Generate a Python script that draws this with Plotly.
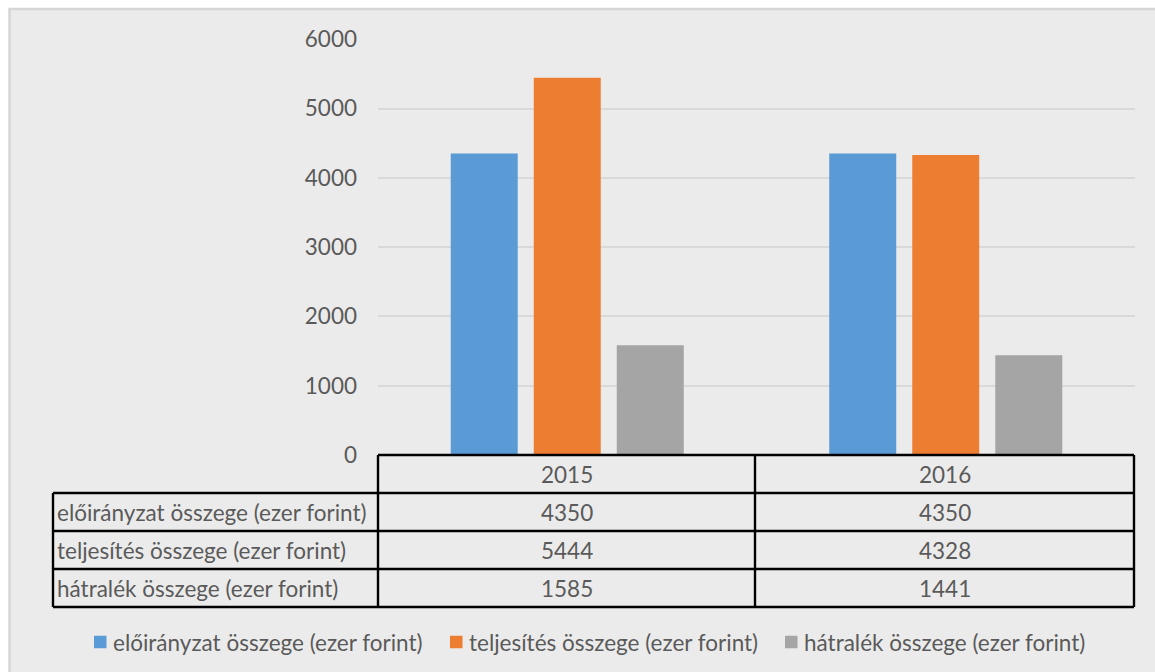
import plotly.graph_objects as go

years = ["2015", "2016"]
series_names = [
    "előirányzat összege (ezer forint)",
    "teljesítés összege (ezer forint)",
    "hátralék összege (ezer forint)",
]
eloiranyzat = [4350, 4350]
teljesites = [5444, 4328]
hatralek = [1585, 1441]
series_values = [eloiranyzat, teljesites, hatralek]
colors = ["#5B9BD5", "#ED7D31", "#A5A5A5"]
y_ticks = [0, 1000, 2000, 3000, 4000, 5000, 6000]

W, H = 1155, 672
FONT = "Lato"
FS = 22.5
TXT = "#5A5A5A"

def px(x):
    return x / W

def py(y):
    return 1 - y / H

fig = go.Figure()
for name, vals, col in zip(series_names, series_values, colors):
    fig.add_trace(go.Bar(x=years, y=vals, name=name, marker_color=col,
                         marker_line_width=0, showlegend=False))

shapes = []
# outer chart area
shapes.append(dict(type="rect", xref="paper", yref="paper",
                   x0=px(9.5), x1=px(1170), y0=py(9), y1=py(690),
                   fillcolor="#EBEBEB", line=dict(color="#D6D6D6", width=2.5),
                   layer="below"))

# data table
xl, xd, xm, xr = 53, 378, 755, 1134
rows = [455, 493, 531, 569, 607]
lw = 2.4
blk = "#000000"
def line(x0, y0, x1, y1):
    shapes.append(dict(type="line", xref="paper", yref="paper",
                       x0=px(x0), x1=px(x1), y0=py(y0), y1=py(y1),
                       line=dict(color=blk, width=lw)))
line(xd, rows[0], xr, rows[0])
for r in rows[1:]:
    line(xl, r, xr, r)
line(xl, rows[1], xl, rows[4])
line(xd, rows[0], xd, rows[4])
line(xm, rows[0], xm, rows[4])
line(xr, rows[0], xr, rows[4])

annotations = []
font = dict(family=FONT, size=FS, color=TXT)
col_centers = [(xd + xm) / 2, (xm + xr) / 2]
for yr, cx in zip(years, col_centers):
    annotations.append(dict(x=px(cx), y=py((rows[0] + rows[1]) / 2),
                            xref="paper", yref="paper", text=yr,
                            showarrow=False, xanchor="center", yanchor="middle",
                            font=font))
for i, (name, vals) in enumerate(zip(series_names, series_values)):
    ymid = (rows[i + 1] + rows[i + 2]) / 2
    annotations.append(dict(x=px(xl + 2), y=py(ymid), xref="paper", yref="paper",
                            text=name, showarrow=False, xanchor="left",
                            yanchor="middle", font=font))
    for v, cx in zip(vals, col_centers):
        annotations.append(dict(x=px(cx), y=py(ymid), xref="paper", yref="paper",
                                text=str(v), showarrow=False, xanchor="center",
                                yanchor="middle", font=font))

# legend (manual, matching spreadsheet style)
leg_x = [94, 450, 785]
leg_y = 642
sq = 12.5
for name, col, lx in zip(series_names, colors, leg_x):
    shapes.append(dict(type="rect", xref="paper", yref="paper",
                       x0=px(lx), x1=px(lx + sq), y0=py(leg_y - sq / 2),
                       y1=py(leg_y + sq / 2), fillcolor=col, line=dict(width=0)))
    annotations.append(dict(x=px(lx + sq + 4), y=py(leg_y), xref="paper",
                            yref="paper", text=name, showarrow=False,
                            xanchor="left", yanchor="middle", font=font))

fig.update_layout(
    width=W, height=H,
    autosize=False,
    margin=dict(l=0, r=0, t=0, b=0, pad=0),
    paper_bgcolor="#FFFFFF",
    plot_bgcolor="rgba(0,0,0,0)",
    barmode="group",
    bargap=0.342,
    bargroupgap=0.193,
    showlegend=False,
    hovermode=False,
    font=font,
    xaxis=dict(domain=[px(378), px(1135)], showticklabels=False,
               showgrid=False, zeroline=False, showline=False, ticks="",
               automargin=False),
    yaxis=dict(domain=[py(455), py(39)], range=[0, 6003], tickvals=y_ticks,
               showgrid=True, gridcolor="#D9D9D9", gridwidth=2,
               zeroline=False, showline=False, ticks="",
               ticklabelstandoff=20, automargin=False,
               tickfont=font),
    shapes=shapes,
    annotations=annotations,
)

fig.write_html("out.html",
               config={"displayModeBar": False},
               post_script="document.body.style.margin='0px';")
